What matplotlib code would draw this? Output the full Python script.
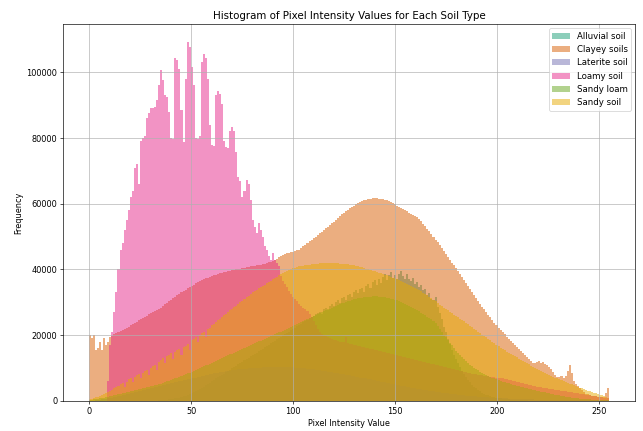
import numpy as np
import matplotlib
matplotlib.use("Agg")
import matplotlib.pyplot as plt

# pixel counts per intensity level 0..255, in thousands
levels = np.arange(256)

alluvial_k = [
    0, 0, 0, 0, 0, 0, 0, 0, 0, 0, 0, 0, 0, 0, 0, 0,
    0, 0, 0, 0, 0, 0, 0, 0, 0, 0, 0, 0, 0, 0, 0, 0,
    0.1, 0.1, 0.2, 0.2, 0.3, 0.3, 0.4, 0.5, 0.6, 0.7, 0.8, 0.9, 1, 1.2, 1.4, 1.6,
    1.8, 2, 2.3, 2.6, 2.9, 3.2, 3.5, 3.9, 4.3, 4.7, 5.1, 5.5, 6, 6.4, 6.9, 7.3,
    7.5, 7.9, 8.3, 8.7, 9.1, 9.5, 9.9, 10.3, 10.7, 11.1, 11.5, 11.9, 12.3, 12.7, 13.1, 13.5,
    13.9, 14.3, 14.7, 15.1, 15.5, 15.9, 16.3, 16.7, 17.1, 17.5, 17.9, 18.3, 18.7, 19.1, 19.5, 19.9,
    20.3, 20.7, 21.1, 21.5, 21.9, 22.3, 22.7, 23.1, 23.5, 23.9, 24.3, 24.7, 25.1, 25.5, 25.9, 26.3,
    26.7, 27.1, 26.5, 27.9, 28.3, 27.6, 28.9, 29.5, 28.8, 30.2, 30.6, 29.9, 31.2, 31.6, 30.8, 32.1,
    32.5, 31.6, 33, 33.6, 32.7, 34, 34.4, 33.2, 35, 35.6, 34.2, 36.3, 36.8, 35.3, 37.2, 36,
    37.8, 38.6, 36.9, 38.2, 39.1, 37.5, 38.4, 37.1, 38.7, 39.6, 38, 37.2, 38.5, 37, 36.4, 37.3,
    35.6, 36.1, 34.8, 35.2, 33.6, 34, 32.3, 32.8, 31, 30.6, 31.5, 28.6, 26.8, 25, 22.6, 20.8,
    18.9, 17.2, 15.6, 14.1, 12.7, 11.4, 10.2, 9.1, 8.1, 7.2, 6.4, 5.6, 4.9, 4.3, 3.8, 3.3,
    2.9, 2.5, 2.2, 1.9, 1.7, 1.5, 1.3, 1.1, 1, 0.9, 0.8, 0.7, 0.6, 0.5, 0.5, 0.4,
    0.4, 0.3, 0.3, 0.3, 0.2, 0.2, 0.2, 0.2, 0.1, 0.1, 0.1, 0.1, 0.1, 0.1, 0.1, 0,
    0, 0, 0, 0, 0, 0, 0, 0, 0, 0, 0, 0, 0, 0, 0, 0,
    0, 0, 0, 0, 0, 0, 0, 0, 0, 0, 0, 0, 0, 0, 0, 0,
]

clayey_k = [
    20, 19, 20, 15.5, 16, 18, 15.5, 19, 17, 18, 19.5, 19.8, 20.2, 20.5, 21, 21.3,
    21.6, 22, 22.3, 22.6, 23, 23.4, 23.7, 24.1, 24.5, 24.8, 25.2, 25.5, 25.9, 26.3, 26.6, 27,
    27.3, 27.7, 28, 28.4, 28.9, 29.4, 29.9, 30.3, 30.8, 31.2, 31.7, 32.1, 32.6, 33, 33.4, 33.8,
    34.2, 34.6, 35, 35.4, 35.8, 36.1, 36.4, 36.7, 37, 37.3, 37.5, 37.8, 38, 38.2, 38.4, 38.6,
    38.8, 39, 39.1, 39.2, 39.4, 39.5, 39.7, 39.8, 40, 40.1, 40.2, 40.4, 40.5, 40.6, 40.8, 40.9,
    41, 41.1, 41.2, 41.3, 41.4, 41.6, 41.8, 42, 42.2, 42.3, 42.6, 42.9, 43.3, 43.7, 44, 44.3,
    44.6, 44.9, 45, 45.2, 45.4, 45.6, 45.8, 46, 46.5, 47, 47.5, 48, 48.5, 49, 49.5, 50,
    50.5, 51, 51.5, 52, 52.5, 53, 53.5, 54, 54.5, 55, 55.6, 56.2, 56.8, 57.3, 57.8, 58.2,
    58.6, 59, 59.4, 59.8, 60.1, 60.4, 60.7, 61, 61.2, 61.4, 61.5, 61.6, 61.7, 61.6, 61.5, 61.5,
    61.3, 61.2, 61, 60.7, 60.4, 60.1, 59.8, 59.4, 59, 58.7, 58.3, 58, 57.7, 57.3, 57, 56.7,
    56.4, 56, 55.3, 54.6, 53.9, 53.2, 52.4, 51.6, 50.8, 50, 49.1, 48.2, 47.3, 46.4, 45.5, 44.6,
    43.8, 43, 42.1, 41.2, 40.3, 39.4, 38.5, 37.6, 36.7, 35.8, 34.9, 34, 33.1, 32.2, 31.2, 30.3,
    29.4, 28.6, 27.8, 27, 26.2, 25.4, 24.6, 23.8, 23, 22.3, 21.6, 20.9, 20.2, 19.5, 18.8, 18.1,
    17.5, 16.9, 16.4, 15.8, 15.2, 14.6, 14, 13.4, 12.8, 12.2, 11.6, 11.5, 11.8, 12, 11.6, 11.8,
    11.2, 10.8, 10.4, 9.6, 8.8, 8, 7.4, 7.2, 7.5, 7, 7.6, 9, 11, 8.5, 6, 5,
    4.4, 3.8, 3.2, 2.6, 2.2, 2, 1.8, 1.6, 1.5, 1.4, 1.3, 1.2, 1.1, 1.2, 2.5, 4,
]

laterite_k = [
    0, 0.1, 0.1, 0.2, 0.3, 0.4, 0.5, 0.6, 0.7, 0.8, 0.9, 1, 1.1, 1.3, 1.4, 1.5,
    1.7, 1.8, 2, 2.1, 2.3, 2.4, 2.6, 2.7, 2.9, 3, 3.2, 3.3, 3.5, 3.6, 3.8, 3.9,
    4.1, 4.2, 4.4, 4.5, 4.7, 4.8, 5, 5.1, 5.3, 5.4, 5.6, 5.7, 5.9, 6, 6.2, 6.3,
    6.5, 6.6, 6.8, 6.9, 7.1, 7.2, 7.4, 7.5, 7.7, 7.8, 8, 8.1, 8.2, 8.4, 8.5, 8.6,
    8.7, 8.8, 8.9, 9, 9.1, 9.2, 9.3, 9.4, 9.5, 9.6, 9.6, 9.7, 9.8, 9.8, 9.9, 9.9,
    10, 10, 10.1, 10.1, 10.1, 10.2, 10.2, 10.2, 10.2, 10.3, 10.3, 10.3, 10.3, 10.3, 10.3, 10.3,
    10.3, 10.2, 10.2, 10.2, 10.2, 10.1, 10.1, 10, 10, 9.9, 9.9, 9.8, 9.7, 9.7, 9.6, 9.5,
    9.4, 9.3, 9.2, 9.1, 9, 8.9, 8.8, 8.7, 8.6, 8.5, 8.4, 8.3, 8.2, 8.1, 8, 7.9,
    7.8, 7.6, 7.5, 7.4, 7.3, 7.1, 7, 6.9, 6.8, 6.6, 6.5, 6.4, 6.2, 6.1, 6, 5.8,
    5.7, 5.6, 5.5, 5.3, 5.2, 5.1, 5, 4.8, 4.7, 4.6, 4.5, 4.4, 4.2, 4.1, 4, 3.9,
    3.8, 3.7, 3.6, 3.5, 3.4, 3.3, 3.2, 3.1, 3, 2.9, 2.8, 2.7, 2.6, 2.5, 2.4, 2.3,
    2.3, 2.2, 2.1, 2, 2, 1.9, 1.8, 1.8, 1.7, 1.6, 1.6, 1.5, 1.5, 1.4, 1.4, 1.3,
    1.3, 1.2, 1.2, 1.1, 1.1, 1, 1, 1, 0.9, 0.9, 0.9, 0.8, 0.8, 0.8, 0.7, 0.7,
    0.7, 0.7, 0.6, 0.6, 0.6, 0.6, 0.5, 0.5, 0.5, 0.5, 0.5, 0.4, 0.4, 0.4, 0.4, 0.4,
    0.4, 0.3, 0.3, 0.3, 0.3, 0.3, 0.3, 0.3, 0.3, 0.3, 0.3, 0.3, 0.3, 0.3, 0.3, 0.3,
    0.2, 0.2, 0.2, 0.2, 0.2, 0.2, 0.2, 0.2, 0.2, 0.2, 0.2, 0.2, 0.2, 0.2, 0.2, 0.2,
]

loamy_k = [
    0, 0, 0, 0, 0, 0, 0, 0, 0, 6, 17, 21, 27, 33, 40, 46,
    48, 52, 55, 58, 62, 64, 71, 72, 66, 79, 80, 80.5, 86, 87.5, 89, 89,
    89.5, 91.5, 96, 100.6, 97.6, 93, 92.5, 88, 80, 79.8, 104.5, 103.7, 101, 88.4, 78.8, 98,
    109.2, 107.7, 101.6, 96, 80, 79.8, 80.5, 103, 105.7, 104.5, 98, 84, 77.8, 77.5, 93, 94.3,
    93.5, 90.4, 79, 77.3, 77, 82, 83.2, 82, 75.8, 68.2, 67, 62.1, 64, 67.2, 66, 61,
    55, 53, 51, 54, 52, 50, 47, 46, 44, 43, 45, 43, 42, 41, 38, 36.5,
    35.5, 34.5, 33.5, 32.5, 31.7, 31, 30.3, 29.5, 29, 28.3, 27.8, 27.2, 26.5, 25.5, 24.3, 23,
    21.8, 20.8, 20.3, 19.9, 19.6, 19.3, 19, 18.8, 18.6, 18.4, 18.2, 18, 17.9, 17.8, 19.5, 17.5,
    17.3, 17.2, 17, 16.9, 16.7, 16.6, 16.4, 16.3, 16.1, 16, 15.8, 15.7, 15.5, 15.4, 15.2, 15.1,
    14.9, 14.8, 14.6, 14.5, 14.3, 14.2, 14, 13.9, 13.7, 13.6, 13.4, 13.3, 13.1, 13, 12.8, 12.7,
    12.5, 12.4, 12.2, 12.1, 11.9, 11.8, 11.6, 11.5, 11.3, 11.2, 11, 10.9, 10.7, 10.6, 10.4, 10.3,
    10.1, 10, 9.8, 9.7, 9.5, 9.4, 9.2, 9.1, 8.9, 8.8, 8.6, 8.5, 8.3, 8.2, 8.1, 8,
    7.9, 7.8, 7.7, 7.6, 7.5, 7.4, 7.3, 7.2, 7.1, 7, 6.9, 6.8, 6.6, 6.5, 6.3, 6.2,
    6, 5.9, 5.7, 5.6, 5.4, 5.3, 5.1, 5, 4.8, 4.7, 4.6, 4.5, 4.3, 4.2, 4.1, 4,
    3.9, 3.8, 3.7, 3.6, 3.5, 3.4, 3.3, 3.2, 3.1, 3, 2.9, 2.8, 2.7, 2.6, 2.5, 2.4,
    2.3, 2.2, 2.1, 2, 1.9, 1.8, 1.7, 1.6, 1.5, 1.4, 1.3, 1.2, 1.1, 1, 0.9, 0.8,
]

sandy_loam_k = [
    0.3, 0.4, 0.5, 0.6, 0.7, 0.8, 0.9, 1, 1.1, 1.2, 1.4, 1.5, 1.7, 1.8, 2, 2.1,
    2.3, 2.4, 2.6, 2.7, 2.9, 3, 3.2, 3.3, 3.5, 3.6, 3.8, 3.9, 4.1, 4.2, 4.4, 4.5,
    4.7, 4.8, 5, 5.2, 5.4, 5.6, 5.9, 6.1, 6.4, 6.6, 6.9, 7.1, 7.4, 7.6, 7.9, 8.1,
    8.4, 8.6, 8.9, 9.1, 9.4, 9.7, 10, 10.3, 10.5, 10.8, 11, 11.3, 11.6, 11.8, 12.1, 12.4,
    12.7, 13, 13.3, 13.6, 13.9, 14.2, 14.4, 14.7, 15, 15.3, 15.6, 15.9, 16.1, 16.4, 16.7, 17,
    17.2, 17.5, 17.8, 18.1, 18.3, 18.6, 18.9, 19.2, 19.4, 19.7, 20, 20.2, 20.5, 20.8, 21, 21.3,
    21.6, 21.8, 22.1, 22.4, 22.7, 23, 23.3, 23.6, 23.9, 24.2, 24.5, 24.8, 25.1, 25.4, 25.7, 26,
    26.3, 26.6, 26.9, 27.2, 27.5, 27.8, 28.1, 28.4, 28.7, 29, 29.2, 29.5, 29.7, 29.9, 30.1, 30.3,
    30.5, 30.7, 30.9, 31, 31.2, 31.3, 31.4, 31.5, 31.6, 31.7, 31.7, 31.8, 31.8, 31.8, 31.7, 31.7,
    31.6, 31.5, 31.4, 31.3, 31.1, 31, 30.8, 30.6, 30.4, 30.1, 29.8, 29.6, 29.2, 28.9, 28.5, 28.2,
    27.8, 27.5, 27.2, 26.8, 26.4, 26, 25.6, 25.2, 24.8, 24.3, 23.6, 22.8, 21.9, 21, 20.1, 19.3,
    18.5, 17.7, 16.9, 16.1, 15.3, 14.6, 13.9, 13.2, 12.6, 12, 11.5, 11, 10.5, 10.1, 9.7, 9.3,
    8.9, 8.6, 8.3, 8, 7.7, 7.4, 7.1, 6.8, 6.5, 6.2, 6, 5.8, 5.6, 5.4, 5.3, 5.1,
    4.9, 4.8, 4.6, 4.5, 4.3, 4.2, 4, 3.9, 3.7, 3.6, 3.4, 3.3, 3.1, 3, 2.8, 2.7,
    2.6, 2.4, 2.3, 2.2, 2, 1.9, 1.8, 1.7, 1.5, 1.4, 1.3, 1.2, 1.1, 1, 0.9, 0.9,
    0.8, 0.7, 0.7, 0.6, 0.6, 0.5, 0.5, 0.4, 0.4, 0.4, 0.3, 0.3, 0.3, 0.2, 0.2, 0.2,
]

sandy_soil_k = [
    0.5, 0.7, 0.9, 1.1, 1.3, 1.5, 1.8, 2.1, 2.4, 2.7, 3, 3.4, 3.8, 4.2, 4.6, 5,
    5.4, 4.2, 5.8, 6.6, 7, 5.6, 7.4, 7.8, 8.2, 6.8, 8.6, 9, 9.4, 7.9, 10, 10.5,
    11, 9.4, 11.8, 12.5, 13, 11.4, 13.6, 14, 14.5, 12.6, 15, 15.4, 15.8, 14, 16.4, 16.8,
    17.2, 15.6, 18.5, 18.9, 19.3, 17.8, 20.1, 20.5, 21, 19.4, 21.8, 22.3, 23, 23.5, 24, 24.5,
    25, 25.5, 26, 26.5, 27, 27.5, 28, 28.5, 29, 29.5, 30, 30.5, 31, 31.5, 32, 32.5,
    33, 33.4, 33.8, 34.2, 34.6, 35, 35.4, 35.8, 36.2, 36.6, 37, 37.4, 37.8, 38.2, 38.6, 39,
    39.3, 39.6, 39.9, 40.1, 40.3, 40.5, 40.7, 40.9, 41, 41.1, 41.2, 41.3, 41.4, 41.5, 41.6, 41.7,
    41.8, 41.9, 41.9, 42, 42, 42, 42, 42, 42, 41.9, 41.9, 41.8, 41.8, 41.7, 41.6, 41.5,
    41.4, 41.3, 41.2, 41, 40.9, 40.7, 40.6, 40.4, 40.2, 40, 39.8, 39.6, 39.4, 39.2, 39, 38.8,
    38.6, 38.4, 38.2, 38, 37.8, 37.5, 37.3, 37, 36.8, 36.5, 36.2, 35.8, 35.5, 35.2, 34.9, 34.6,
    34.3, 34, 33.6, 33.3, 32.9, 32.5, 32.1, 31.7, 31.2, 30.8, 30.3, 29.8, 29.3, 28.9, 28.4, 28,
    27.6, 27.1, 26.7, 26.2, 25.8, 25.4, 25, 24.6, 24.2, 23.8, 23.3, 22.8, 22.4, 21.9, 21.5, 21,
    20.6, 20.1, 19.7, 19.3, 18.8, 18.4, 17.9, 17.5, 17, 16.6, 16.2, 15.8, 15.4, 15, 14.6, 14.2,
    13.9, 13.5, 13.2, 12.8, 12.4, 12, 11.7, 11.4, 11.1, 10.7, 10.4, 10.1, 9.8, 9.5, 9.2, 8.9,
    8.6, 8.3, 8, 7.7, 7.4, 7.1, 6.9, 6.6, 6.3, 6, 5.8, 5.5, 5.2, 5, 4.8, 4.5,
    4.3, 4, 3.8, 3.5, 3.3, 3.1, 2.9, 2.7, 2.5, 2.3, 2.1, 1.9, 1.7, 1.5, 1.3, 1,
]

soil_types = ["Alluvial soil", "Clayey soils", "Laterite soil",
              "Loamy soil", "Sandy loam", "Sandy soil"]
counts_k = [alluvial_k, clayey_k, laterite_k, loamy_k, sandy_loam_k, sandy_soil_k]

colors = plt.get_cmap("Dark2").colors

# 643 x 431 px output
fig_w = 10.9
dpi = 643 / fig_w
fig = plt.figure(figsize=(fig_w, 431 / dpi))
ax = fig.add_subplot(111)
fig.subplots_adjust(left=0.098, right=0.988, bottom=0.07, top=0.944)

for i, (name, vals) in enumerate(zip(soil_types, counts_k)):
    assert len(vals) == 256, name
    ax.hist(levels, bins=256, range=(0, 255),
            weights=np.array(vals) * 1000,
            alpha=0.5, color=colors[i], label=name)

ax.set_title("Histogram of Pixel Intensity Values for Each Soil Type", fontsize=12.5)
ax.set_xlabel("Pixel Intensity Value")
ax.set_ylabel("Frequency")
ax.legend(loc="upper right", fontsize=10.5)
ax.grid(True)

fig.savefig("out.png", dpi=dpi)
